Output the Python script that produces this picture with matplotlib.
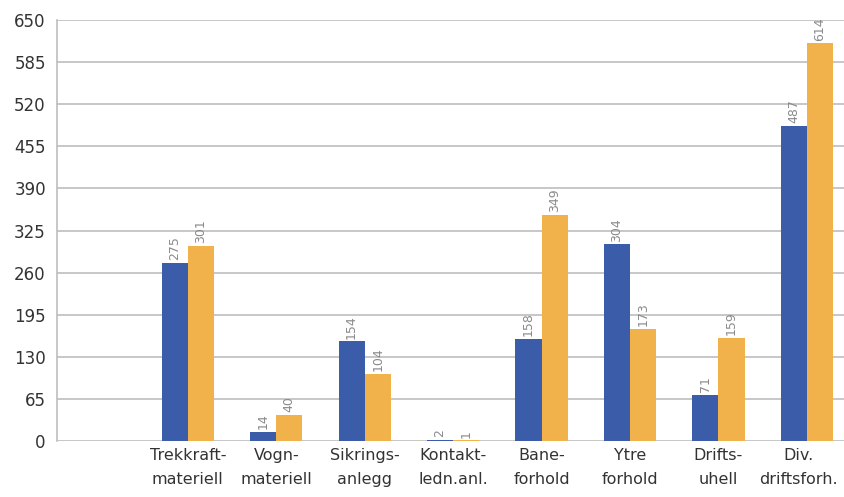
import numpy as np
import matplotlib.pyplot as plt

categories = ["", "Trekkraft-\nmateriell", "Vogn-\nmateriell", "Sikrings-\nanlegg",
              "Kontakt-\nledn.anl.", "Bane-\nforhold", "Ytre\nforhold",
              "Drifts-\nuhell", "Div.\ndriftsforh."]
blue_vals = [0, 275, 14, 154, 2, 158, 304, 71, 487]
orange_vals = [0, 301, 40, 104, 1, 349, 173, 159, 614]
yticks = [0, 65, 130, 195, 260, 325, 390, 455, 520, 585, 650]

plt.rcParams['font.family'] = ['Liberation Sans Narrow', 'DejaVu Sans']

fig = plt.figure(figsize=(8.44, 4.97), dpi=100)
ax = fig.add_axes([0.0675, 0.1127, 0.9325, 0.847])

x = np.arange(len(categories))
w = 0.295
blue = "#3b5da9"
orange = "#f1b24c"

b1 = ax.bar(x[1:] - w / 2, blue_vals[1:], w, color=blue, zorder=3)
b2 = ax.bar(x[1:] + w / 2, orange_vals[1:], w, color=orange, zorder=3)

for bars, vals in ((b1, blue_vals[1:]), (b2, orange_vals[1:])):
    for r, v in zip(bars, vals):
        ax.text(r.get_x() + r.get_width() / 2, v + 4, str(v), rotation=90,
                ha='center', va='bottom', fontsize=9, color="#8a8a8a",
                family=['DejaVu Sans'], zorder=4)

ax.set_ylim(0, 650)
ax.set_xlim(-0.48, 8.42)
ax.set_yticks(yticks)
ax.set_yticklabels([str(t) for t in yticks], fontsize=12, color="#333333")

# last label nudged left so it stays inside the canvas
label_pos = x.astype(float)
label_pos[-1] -= 0.1
ax.set_xticks(label_pos)
ax.set_xticklabels(categories, fontsize=11.5, color="#333333", linespacing=1.75)
ax.tick_params(length=0, pad=8)
ax.tick_params(axis='x', pad=5)

ax.yaxis.grid(True, color="#bdbdbd", linewidth=1.2, zorder=0)
for s in ('top', 'right', 'bottom'):
    ax.spines[s].set_visible(False)
ax.spines['left'].set_color("#bdbdbd")
ax.spines['left'].set_linewidth(1.2)

fig.savefig("out.png", dpi=100)
